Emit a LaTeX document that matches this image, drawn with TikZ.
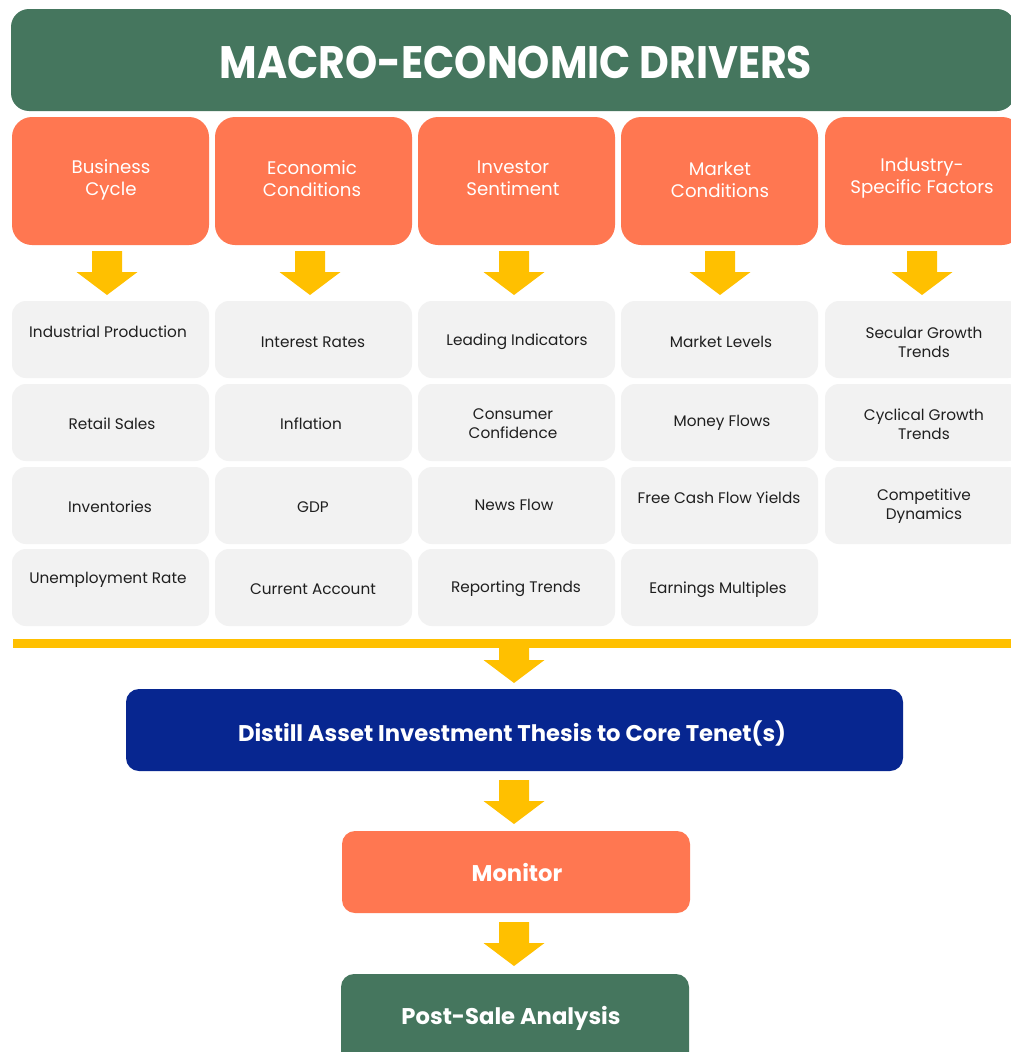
\documentclass[tikz,border=0pt]{standalone}
\usepackage{fontspec}
\setmainfont{Poppins}
\newfontfamily\bannerfont{Poppins}[FakeStretch=0.9]
\definecolor{drvgreen}{HTML}{45765E}
\definecolor{drvorange}{HTML}{FF7751}
\definecolor{drvyellow}{HTML}{FFC000}
\definecolor{drvgrey}{HTML}{F2F2F2}
\definecolor{drvblue}{HTML}{072690}
\definecolor{drvtext}{HTML}{1F1F1F}
\tikzset{
  box/.style={inner sep=0pt, draw=none},
  titlebox/.style={box, fill=drvgreen, rounded corners=18pt},
  headbox/.style={box, fill=drvorange, rounded corners=20pt, minimum width=197pt, minimum height=128pt},
  itembox/.style={box, fill=drvgrey, rounded corners=14pt, minimum width=197pt, minimum height=77pt},
  flowbox/.style={box, rounded corners=13pt},
  headtxt/.style={text=white, align=center, font=\fontsize{18.2}{22}\selectfont, yshift=-2.5pt},
  itemtxt/.style={text=drvtext, align=center, font=\fontsize{15.3}{19}\selectfont, yshift=-1pt},
  flowtxt/.style={text=white, align=center, font=\fontsize{22.7}{26}\selectfont\bfseries},
  downarrow/.pic={\fill[drvyellow] (-15,0) -- (15,0) -- (15,21) -- (30.5,21) -- (0,44)
     -- (-30.5,21) -- (-15,21) -- cycle;}
}
\begin{document}
\begin{tikzpicture}[x=1pt,y=-1pt]
\clip (0,0) rectangle (1011,1052);
\fill[white] (0,0) rectangle (1011,1052);

% title banner
\node[titlebox, minimum width=1004pt, minimum height=102pt] (title) at (513,60) {};
\node[text=white, font=\fontsize{45.5}{48}\bannerfont\bfseries] (titletxt) at (516,62) {MACRO-ECONOMIC DRIVERS};

% driver categories
\node[headbox] (h1) at (110.5,181) {};
\node[headbox] (h2) at (313.5,181) {};
\node[headbox] (h3) at (516.5,181) {};
\node[headbox] (h4) at (719.5,181) {};
\node[headbox] (h5) at (923.5,181) {};
\node[headtxt] (h1t) at (111,177) {Business\\Cycle};
\node[headtxt] (h2t) at (312,176) {Economic\\Conditions};
\node[headtxt] (h3t) at (513,176) {Investor\\Sentiment};
\node[headtxt] (h4t) at (720,177) {Market\\Conditions};
\node[headtxt] (h5t) at (922,176) {Industry-\\Specific Factors};

% arrows from categories to indicators
\pic at (107,251) {downarrow};
\pic at (310,251) {downarrow};
\pic at (514,251) {downarrow};
\pic at (720,251) {downarrow};
\pic at (922,251) {downarrow};

% indicator grid
\foreach \cx/\c in {110.5/1,313.5/2,516.5/3,719.5/4}{
  \foreach \cy/\r in {339.5/1,422.5/2,505.5/3,587.5/4}{
    \node[itembox] (g\c\r) at (\cx,\cy) {};
  }
}
\foreach \cy/\r in {339.5/1,422.5/2,505.5/3}{
  \node[itembox] (g5\r) at (923.5,\cy) {};
}

\node[itemtxt] (t11) at (108,331) {Industrial Production};
\node[itemtxt] (t12) at (112,423) {Retail Sales};
\node[itemtxt] (t13) at (110,506) {Inventories};
\node[itemtxt] (t14) at (108,579) {Unemployment Rate};

\node[itemtxt] (t21) at (313,341) {Interest Rates};
\node[itemtxt] (t22) at (311,423) {Inflation};
\node[itemtxt] (t23) at (313,506) {GDP};
\node[itemtxt] (t24) at (313,588) {Current Account};

\node[itemtxt] (t31) at (517,341) {Leading Indicators};
\node[itemtxt] (t32) at (513,423) {Consumer\\Confidence};
\node[itemtxt] (t33) at (514,504) {News Flow};
\node[itemtxt] (t34) at (516,588) {Reporting Trends};

\node[itemtxt] (t41) at (721,341) {Market Levels};
\node[itemtxt] (t42) at (722,422) {Money Flows};
\node[itemtxt] (t43) at (719,497) {Free Cash Flow Yields};
\node[itemtxt] (t44) at (718,589) {Earnings Multiples};

\node[itemtxt] (t51) at (924,341) {Secular Growth\\Trends};
\node[itemtxt] (t52) at (924,423) {Cyclical Growth\\Trends};
\node[itemtxt] (t53) at (924,505) {Competitive\\Dynamics};

% collecting bar and downstream flow
\pic at (514,639) {downarrow};
\node[box, fill=drvyellow, minimum width=1000pt, minimum height=9pt] (bar) at (513,643) {};

\node[flowbox, fill=drvblue, minimum width=777pt, minimum height=82pt] (thesis) at (514.5,730) {};
\node[flowtxt] (thesist) at (512,733) {Distill Asset Investment Thesis to Core Tenet(s)};

\pic at (514,780) {downarrow};

\node[flowbox, fill=drvorange, minimum width=348pt, minimum height=82pt] (monitor) at (516,872) {};
\node[flowtxt] (monitort) at (517,872) {Monitor};

\pic at (514,922) {downarrow};

\node[flowbox, fill=drvgreen, minimum width=348pt, minimum height=100pt] (post) at (515,1024) {};
\node[flowtxt] (postt) at (511,1018) {Post-Sale Analysis};
\end{tikzpicture}
\end{document}
